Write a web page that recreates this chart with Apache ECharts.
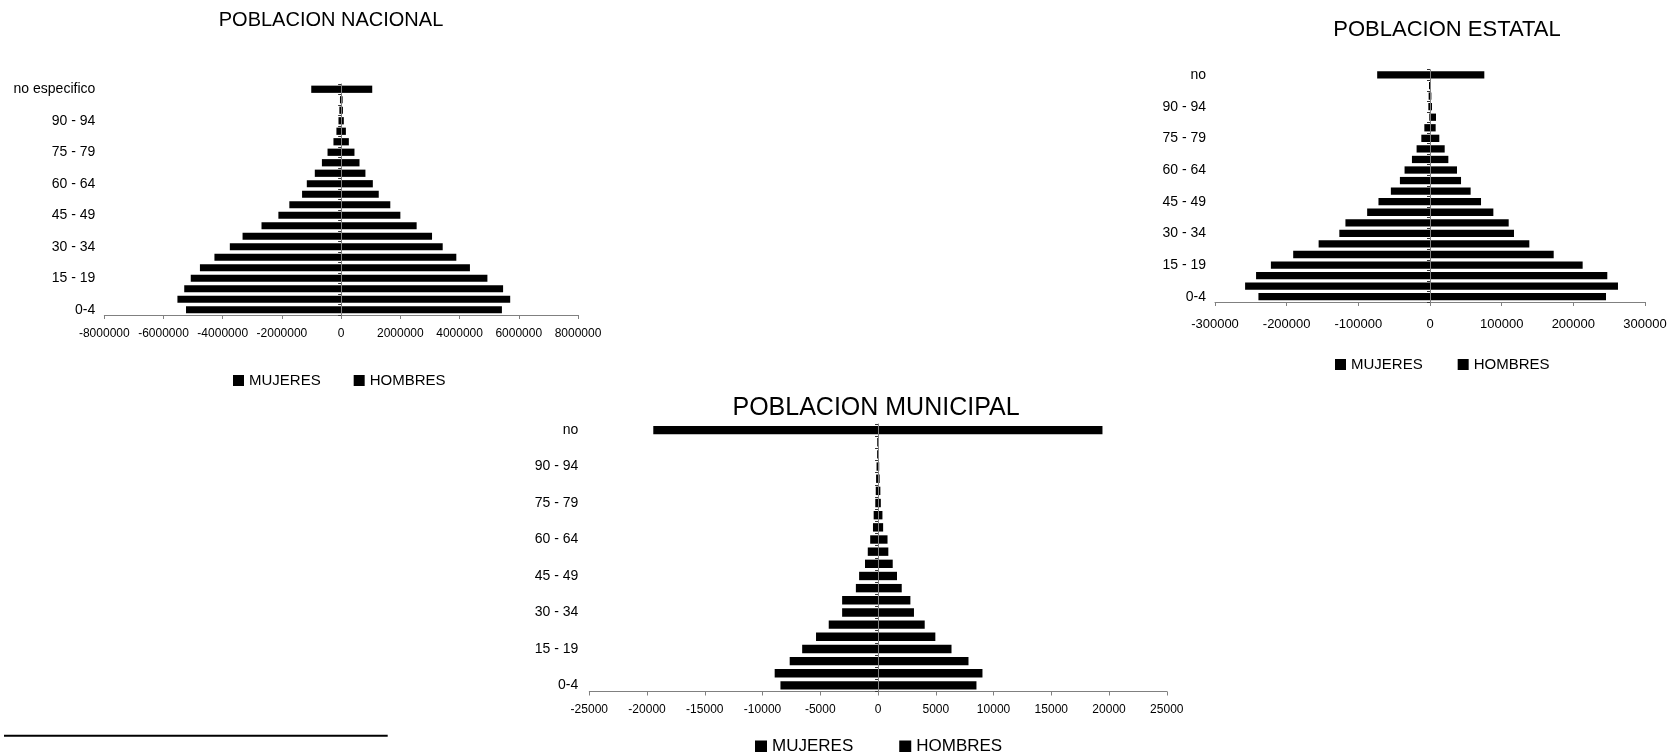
<!DOCTYPE html>
<html>
<head>
<meta charset="utf-8">
<script src="https://cdn.jsdelivr.net/npm/echarts@6/dist/echarts.min.js"></script>
<style>
html,body{margin:0;padding:0;background:#fff;}
#chart{width:1676px;height:752px;}
</style>
</head>
<body>
<div id="chart"></div>
<script>
// Age groups (bottom to top)
const categoriesNac = ['0-4','5 - 9','10 - 14','15 - 19','20 - 24','25 - 29','30 - 34','35 - 39','40 - 44','45 - 49','50 - 54','55 - 59','60 - 64','65 - 69','70 - 74','75 - 79','80 - 84','85 - 89','90 - 94','95 - 99','100 y más','no especifico'];
const categoriesEst = ['0-4','5 - 9','10 - 14','15 - 19','20 - 24','25 - 29','30 - 34','35 - 39','40 - 44','45 - 49','50 - 54','55 - 59','60 - 64','65 - 69','70 - 74','75 - 79','80 - 84','85 - 89','90 - 94','95 - 99','100 y más','no'];
const categoriesMun = ['0-4','5 - 9','10 - 14','15 - 19','20 - 24','25 - 29','30 - 34','35 - 39','40 - 44','45 - 49','50 - 54','55 - 59','60 - 64','65 - 69','70 - 74','75 - 79','80 - 84','85 - 89','90 - 94','95 - 99','100 y más','no'];

// POBLACION NACIONAL
const mujeresNac = [5240000,5530000,5300000,5080000,4770000,4280000,3760000,3330000,2690000,2120000,1750000,1320000,1160000,890000,650000,460000,260000,160000,90000,60000,40000,1010000];
const hombresNac = [5430000,5710000,5470000,4940000,4350000,3890000,3430000,3070000,2550000,2000000,1660000,1270000,1070000,820000,620000,450000,260000,160000,90000,60000,50000,1050000];

// POBLACION ESTATAL
const mujeresEst = [239400,258000,242700,222000,190900,155400,126500,118000,87700,71900,54600,42000,35500,25200,18700,12100,7900,1000,2300,1900,1400,73700];
const hombresEst = [245600,262300,247400,213000,172600,138600,117200,109800,88400,71200,56700,43300,37700,25600,20500,13000,7900,8400,2800,1900,1400,75800];

// POBLACION MUNICIPAL
const mujeresMun = [8450,8950,7650,6570,5370,4270,3110,3110,1920,1640,1130,890,680,440,380,240,200,170,130,80,70,19460];
const hombresMun = [8520,9040,7830,6360,4960,4040,3110,2800,2050,1640,1270,890,820,440,380,240,200,140,100,80,70,19430];

// Axis ranges / ticks
const axisNac = {min: -8000000, max: 8000000, interval: 2000000};
const axisEst = {min: -300000, max: 300000, interval: 100000};
const axisMun = {min: -25000, max: 25000, interval: 5000};

const legendNames = ['MUJERES', 'HOMBRES'];
const titles = ['POBLACION NACIONAL', 'POBLACION ESTATAL', 'POBLACION MUNICIPAL'];

const FONT = "'Liberation Sans', Arial, sans-serif";
const AXIS_GREY = '#808080';

const panels = [
  {cats: categoriesNac, muj: mujeresNac, hom: hombresNac, ax: axisNac,
   grid: {left: 104.3, top: 84, width: 473.7, height: 231},
   title: {x: 331, y: 20, size: 20},
   ylab: {size: 14, margin: 9}, xlab: {size: 12, margin: 13},
   legend: {left: 233, top: 373, size: 15, iw: 11, ih: 11, gap: 33}},
  {cats: categoriesEst, muj: mujeresEst, hom: hombresEst, ax: axisEst,
   grid: {left: 1215, top: 69.7, width: 430, height: 232.3},
   title: {x: 1447, y: 30, size: 22},
   ylab: {size: 14, margin: 9}, xlab: {size: 13, margin: 16},
   legend: {left: 1335, top: 357, size: 15, iw: 11, ih: 11, gap: 35}},
  {cats: categoriesMun, muj: mujeresMun, hom: hombresMun, ax: axisMun,
   grid: {left: 589.3, top: 424, width: 577.5, height: 267.5},
   title: {x: 876, y: 408, size: 25},
   ylab: {size: 14, margin: 11}, xlab: {size: 12, margin: 12},
   legend: {left: 755, top: 738, size: 17, iw: 12, ih: 12, gap: 46}}
];

const option = {
  animation: false,
  textStyle: {fontFamily: FONT, color: '#000'},
  title: [], legend: [], grid: [], xAxis: [], yAxis: [], series: [],
  graphic: [{
    type: 'line',
    shape: {x1: 4, y1: 735.7, x2: 387.7, y2: 735.7},
    style: {stroke: '#000', lineWidth: 2}
  }]
};

panels.forEach((p, i) => {
  option.title.push({
    text: titles[i], left: p.title.x, top: p.title.y, padding: 0,
    textAlign: 'center', textVerticalAlign: 'middle',
    textStyle: {fontFamily: FONT, fontSize: p.title.size, fontWeight: 'normal', color: '#000'}
  });
  option.grid.push(Object.assign({containLabel: false}, p.grid));
  option.xAxis.push({
    type: 'value', gridIndex: i, min: p.ax.min, max: p.ax.max, interval: p.ax.interval,
    splitLine: {show: false},
    axisLine: {show: true, onZero: false, lineStyle: {color: AXIS_GREY, width: 1}},
    axisTick: {show: true, length: 4, lineStyle: {color: AXIS_GREY}},
    axisLabel: {fontFamily: FONT, fontSize: p.xlab.size, color: '#000', margin: p.xlab.margin,
      formatter: v => String(v)}
  });
  // label axis (left)
  option.yAxis.push({
    type: 'category', gridIndex: i, data: p.cats, position: 'left',
    axisLine: {show: false, onZero: false}, axisTick: {show: false},
    axisLabel: {interval: 2, fontFamily: FONT, fontSize: p.ylab.size, color: '#000', margin: p.ylab.margin}
  });
  // centre axis on zero
  option.yAxis.push({
    type: 'category', gridIndex: i, data: p.cats, position: 'left', z: 3,
    axisLine: {show: true, onZero: true, lineStyle: {color: AXIS_GREY, width: 1}},
    axisTick: {show: true, interval: 0, length: 3, lineStyle: {color: '#333'}},
    axisLabel: {show: false}
  });
  option.legend.push({
    data: legendNames, left: p.legend.left, top: p.legend.top, padding: 0,
    itemWidth: p.legend.iw, itemHeight: p.legend.ih, itemGap: p.legend.gap, icon: 'rect',
    textStyle: {fontFamily: FONT, fontSize: p.legend.size, color: '#000'}
  });
  option.series.push({
    name: legendNames[0], type: 'bar', xAxisIndex: i, yAxisIndex: 2 * i,
    data: p.muj.map(v => -v), barGap: '-100%', barCategoryGap: '31%',
    itemStyle: {color: '#000'}
  });
  option.series.push({
    name: legendNames[1], type: 'bar', xAxisIndex: i, yAxisIndex: 2 * i,
    data: p.hom, barGap: '-100%', barCategoryGap: '31%',
    itemStyle: {color: '#000'}
  });
});

const chart = echarts.init(document.getElementById('chart'));
chart.setOption(option);
</script>
</body>
</html>
